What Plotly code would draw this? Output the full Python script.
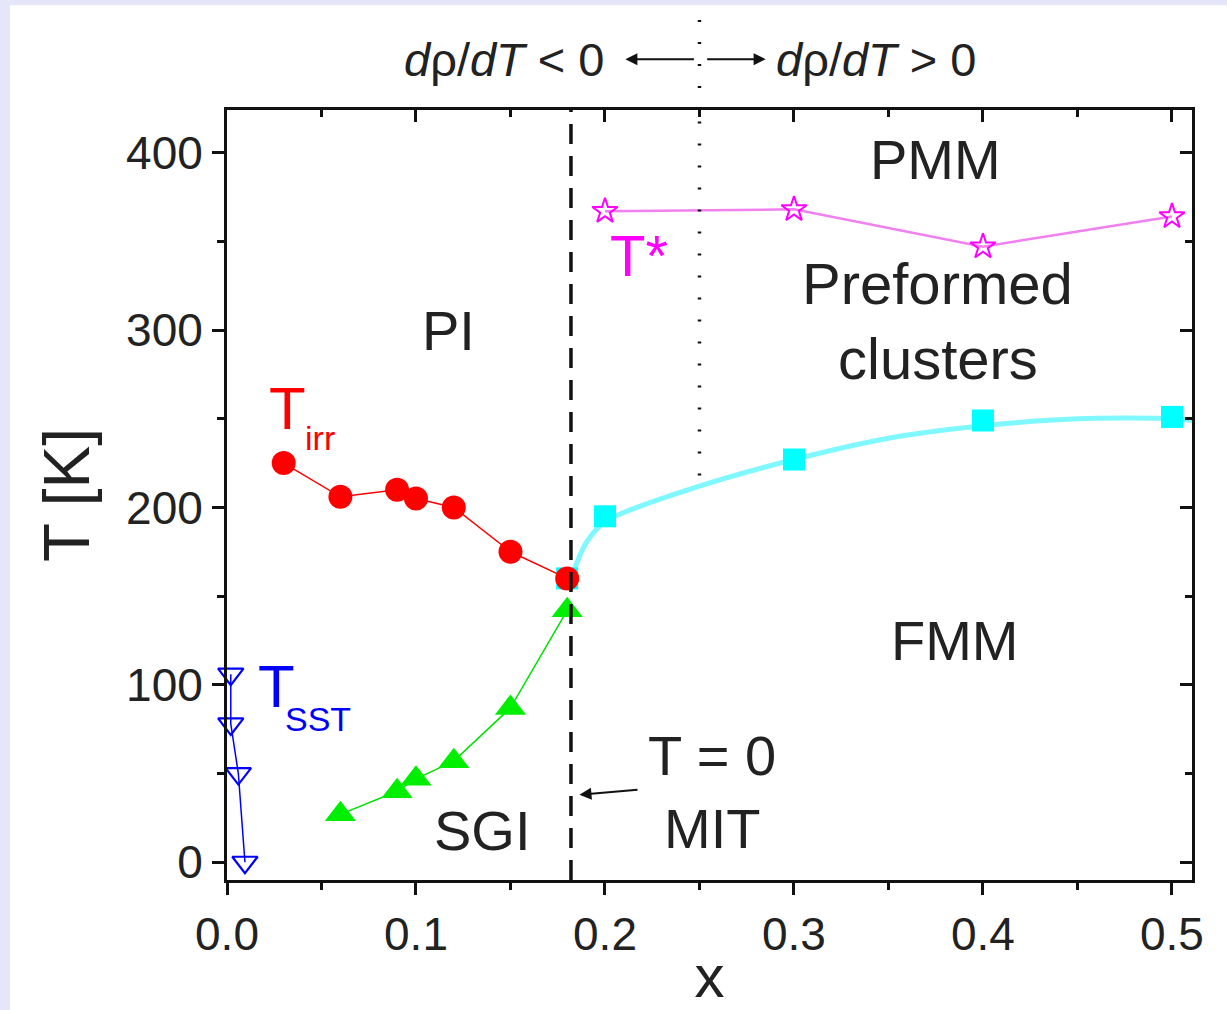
import plotly.graph_objects as go

# ---- data ----
x_irr = [0.03, 0.06, 0.09, 0.10, 0.12, 0.15, 0.18]
t_irr = [225, 206, 210, 205, 200, 175, 160]

x_sgi = [0.06, 0.09, 0.10, 0.12, 0.15, 0.18]
t_sgi = [27, 40, 47, 57, 87, 142]

x_sst = [0.002, 0.002, 0.006, 0.0095]
t_sst = [106, 78, 50, 0]

x_fmm = [0.18, 0.20, 0.30, 0.40, 0.50]
t_fmm = [160, 195, 227, 249, 251]

x_fit = [0.182, 0.19, 0.20, 0.25, 0.30, 0.35, 0.40, 0.45, 0.50, 0.511]
t_fit = [160, 180, 192, 212, 227, 239, 246, 250, 250, 249]

x_star = [0.20, 0.30, 0.40, 0.50]
t_star = [367, 368, 347, 364]

x_mit = 0.182
x_sign = 0.25
t_sign_low = 218

x_ticks = [0.0, 0.1, 0.2, 0.3, 0.4, 0.5]
x_ticklabels = ["0.0", "0.1", "0.2", "0.3", "0.4", "0.5"]
y_ticks = [0, 100, 200, 300, 400]
y_ticklabels = ["0", "100", "200", "300", "400"]

X_RANGE = [0, 0.5106]
Y_RANGE = [-10, 424]

FONT = "Liberation Sans, Arial, sans-serif"
DARK = "#222222"

fig = go.Figure()

# fitted cyan curve
fig.add_trace(go.Scatter(x=x_fit, y=t_fit, mode="lines",
                         line=dict(color="#7ff8ff", width=5, shape="spline", smoothing=0.8),
                         hoverinfo="skip", showlegend=False))
fig.add_trace(go.Scatter(x=x_fmm, y=t_fmm, mode="markers",
                         marker=dict(symbol="square", size=22, color="#00ffff"),
                         showlegend=False))
# T*
fig.add_trace(go.Scatter(x=x_star, y=t_star, mode="lines+markers",
                         line=dict(color="#f080f0", width=2.5),
                         marker=dict(symbol="star-open", size=19, color="#ff00ff",
                                     line=dict(width=2, color="#ff00ff")),
                         showlegend=False))
# T_SST
fig.add_trace(go.Scatter(x=x_sst, y=t_sst, mode="lines+markers",
                         line=dict(color="#0000ff", width=1.5),
                         marker=dict(symbol="triangle-down-open", size=22, color="#0000ff",
                                     line=dict(width=2.2, color="#0000ff")),
                         cliponaxis=False, showlegend=False))
# SGI
fig.add_trace(go.Scatter(x=x_sgi, y=t_sgi, mode="lines+markers",
                         line=dict(color="#00e000", width=1.5),
                         marker=dict(symbol="triangle-up", size=27, color="#00ee00"),
                         showlegend=False))
# T_irr
fig.add_trace(go.Scatter(x=x_irr, y=t_irr, mode="lines+markers",
                         line=dict(color="#ff0000", width=1.5),
                         marker=dict(symbol="circle", size=24, color="#ff0000"),
                         showlegend=False))

# mirror axes with inside ticks (top / right)
fig.add_trace(go.Scatter(x=[None], y=[None], xaxis="x2", yaxis="y2", showlegend=False))

shapes = [
    # white panel on lavender
    dict(type="rect", xref="paper", yref="paper", x0=-0.2249, x1=1.05, y0=-0.2, y1=1.136,
         fillcolor="white", line=dict(width=0), layer="below"),
    # MIT dashed line
    dict(type="line", xref="x", yref="y", x0=x_mit, x1=x_mit, y0=Y_RANGE[0], y1=Y_RANGE[1],
         line=dict(color="#111111", width=3.5, dash="20px,12px")),
    # sign-change dotted line (inside plot)
    dict(type="line", xref="x", yref="y", x0=x_sign, x1=x_sign, y0=t_sign_low, y1=Y_RANGE[1],
         line=dict(color="#111111", width=3.5, dash="2px,20px")),
    # dotted line continuing above plot
    dict(type="line", xref="x", yref="paper", x0=x_sign, x1=x_sign, y0=1.0, y1=1.12,
         line=dict(color="#111111", width=3.5, dash="2px,20px")),
]

ann = []
def txt(x, y, s, size=56, color=DARK, xref="x", yref="y", xanchor="center", yanchor="middle"):
    ann.append(dict(x=x, y=y, xref=xref, yref=yref, text=s, showarrow=False,
                    font=dict(family=FONT, size=size, color=color),
                    xanchor=xanchor, yanchor=yanchor))

txt(0.117, 300, "PI")
txt(0.375, 396, "PMM")
txt(0.376, 326, "Preformed", size=58)
txt(0.376, 284, "clusters", size=58)
txt(0.385, 125, "FMM")
txt(0.135, 18, "SGI")
txt(0.2566, 60, "T = 0")
txt(0.2566, 19, "MIT")
txt(0.032, 256, "T", size=60, color="#ff0000")
txt(0.049, 239, "irr", size=34, color="#ff0000")
txt(0.218, 342, "T*", size=58, color="#ff00ff")
txt(0.026, 99, "T", size=60, color="#0000ff")
txt(0.048, 81, "SST", size=34, color="#0000ff")

# top sign annotations
txt(0.1466, 1.066, "<i>d</i>ρ/<i>dT</i> &lt; 0", size=47, color=DARK, yref="paper")
txt(0.3434, 1.066, "<i>d</i>ρ/<i>dT</i> &gt; 0", size=47, color=DARK, yref="paper")

# arrows near top
ann.append(dict(x=0.2108, y=1.066, ax=70, ay=0, xref="x", yref="paper",
                axref="pixel", ayref="pixel", text="", showarrow=True,
                arrowhead=2, arrowsize=1.2, arrowwidth=2, arrowcolor="#111111"))
ann.append(dict(x=0.285, y=1.066, ax=-60, ay=0, xref="x", yref="paper",
                axref="pixel", ayref="pixel", text="", showarrow=True,
                arrowhead=2, arrowsize=1.2, arrowwidth=2, arrowcolor="#111111"))
# T=0 MIT arrow
ann.append(dict(x=0.1865, y=38, ax=0.218, ay=41, xref="x", yref="y",
                axref="x", ayref="y", text="", showarrow=True,
                arrowhead=2, arrowsize=1.2, arrowwidth=2, arrowcolor="#111111"))

axis_common = dict(showgrid=False, zeroline=False, showline=True, linecolor="#111111",
                   linewidth=3, automargin=False)

fig.update_layout(
    width=1227, height=1010,
    margin=dict(l=227, r=35, t=110, b=130),
    paper_bgcolor="#e6e6fa", plot_bgcolor="white",
    font=dict(family=FONT, color=DARK),
    shapes=shapes, annotations=ann,
    xaxis=dict(range=X_RANGE, tickmode="array", tickvals=x_ticks, ticktext=x_ticklabels,
               ticks="outside", ticklen=12, tickwidth=2.5, tickcolor="#111111",
               minor=dict(dtick=0.05, ticks="outside", ticklen=7, tickwidth=2.5, tickcolor="#111111"),
               tickfont=dict(size=46, color=DARK, family=FONT),
               title=dict(text="x", font=dict(size=60, color=DARK, family=FONT), standoff=8),
               **axis_common),
    yaxis=dict(range=Y_RANGE, tickmode="array", tickvals=y_ticks, ticktext=y_ticklabels,
               ticks="outside", ticklen=12, tickwidth=2.5, tickcolor="#111111",
               minor=dict(dtick=50, ticks="outside", ticklen=7, tickwidth=2.5, tickcolor="#111111"),
               tickfont=dict(size=46, color=DARK, family=FONT),
               title=dict(text="T [K]", font=dict(size=64, color=DARK, family=FONT), standoff=16),
               **axis_common),
    xaxis2=dict(range=X_RANGE, overlaying="x", side="top", anchor="y2",
                tickmode="array", tickvals=x_ticks, showticklabels=False,
                ticks="inside", ticklen=12, tickwidth=2.5, tickcolor="#111111",
                minor=dict(dtick=0.05, ticks="inside", ticklen=7, tickwidth=2.5, tickcolor="#111111"),
                **axis_common),
    yaxis2=dict(range=Y_RANGE, overlaying="y", side="right", anchor="x2",
                tickmode="array", tickvals=y_ticks, showticklabels=False,
                ticks="inside", ticklen=12, tickwidth=2.5, tickcolor="#111111",
                minor=dict(dtick=50, ticks="inside", ticklen=7, tickwidth=2.5, tickcolor="#111111"),
                **axis_common),
)

fig.write_html("out.html", post_script="document.body.style.margin='0px';",
               config={"displayModeBar": False})
